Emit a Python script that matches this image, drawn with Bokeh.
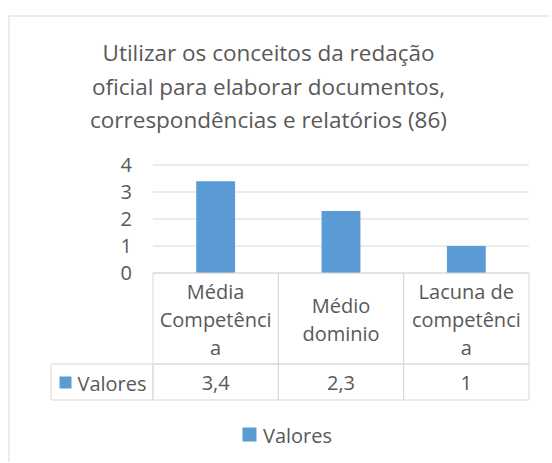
from bokeh.plotting import figure
from bokeh.models import Range1d, FixedTicker, Label, LinearAxis
from bokeh.embed import file_html
from bokeh.resources import INLINE

# ---- data ----
title_lines = ["Utilizar os conceitos da redação",
               "oficial para elaborar documentos,",
               "correspondências e relatórios (86)"]
categories = ["Média Competência", "Médio dominio", "Lacuna de competência"]
category_lines = [["Média", "Competênci", "a"],
                  ["Médio", "dominio"],
                  ["Lacuna de", "competênci", "a"]]
values = [3.4, 2.3, 1.0]
value_labels = ["3,4", "2,3", "1"]
series_name = "Valores"
y_ticks = [0, 1, 2, 3, 4]

# ---- style / layout (page pixels) ----
BAR = "#5b9bd5"
TXT = "#595959"
GRID = "#d9d9d9"
FONT = "Open Sans"
W, H = 550, 462
PA_LEFT, PA_RIGHT = 152.5, 528.5     # plot area in page px
PA_TOP, PA_BOTTOM = 164.5, 272.5
Y_MAX = y_ticks[-1]

n_cat = len(categories)
slot = [i + 0.5 for i in range(n_cat)]

# whole canvas is the frame; default ranges are page pixels (y downwards)
p = figure(x_range=Range1d(0, W), y_range=Range1d(H, 0),
           width=W, height=H, min_border=0,
           x_axis_location=None, y_axis_location=None,
           output_backend="svg", toolbar_location=None, title=None)
p.outline_line_color = None
p.grid.visible = False
p.background_fill_color = "white"
p.border_fill_color = "white"

# data scales that map the category slots / values onto the plot area
ux = (PA_RIGHT - PA_LEFT) / n_cat
uy = (PA_BOTTOM - PA_TOP) / Y_MAX
p.extra_x_ranges = {"cat": Range1d(-PA_LEFT / ux, n_cat + (W - PA_RIGHT) / ux)}
p.extra_y_ranges = {"val": Range1d(-(H - PA_BOTTOM) / uy, Y_MAX + PA_TOP / uy)}

# value axis
yax = LinearAxis(y_range_name="val", ticker=FixedTicker(ticks=y_ticks),
                 fixed_location=PA_LEFT)
yax.axis_line_color = None
yax.major_tick_line_color = None
yax.minor_tick_line_color = None
yax.major_tick_out = 0
yax.major_tick_in = 0
yax.major_label_standoff = 21
yax.major_label_text_font = FONT
yax.major_label_text_font_size = "20px"
yax.major_label_text_color = TXT
p.add_layout(yax, "left")

# gridlines at the ticks
p.segment(x0=0, x1=n_cat, y0=y_ticks, y1=y_ticks, x_range_name="cat",
          y_range_name="val", line_color=GRID, line_width=1)

# bars
p.vbar(x=slot, top=values, bottom=0, width=0.31, color=BAR, line_color=None,
       x_range_name="cat", y_range_name="val")


def text(t, x, y, size=20, align="center", xr="default"):
    # y is the wanted baseline; correct for the renderer's baseline offset
    p.add_layout(Label(x=x, y=y - 0.4 * size, text=t, x_range_name=xr,
                       text_font=FONT, text_font_size=f"{size}px",
                       text_color=TXT, text_align=align,
                       text_baseline="alphabetic"))


# chart outer border
p.quad(left=8.5, right=W + 20, top=15.5, bottom=H + 20,
       fill_color=None, line_color=GRID, line_width=1)

# title
for i, line in enumerate(title_lines):
    text(line, 268, 60.7 + i * 33.8, size=22.5)

# data table: columns follow the category slots
row_top, row_mid, row_bot = PA_BOTTOM, 363.5, 399.5
cells_l = list(range(n_cat)) * 2
cells_r = [c + 1 for c in cells_l]
cells_t = [row_top] * n_cat + [row_mid] * n_cat
cells_b = [row_mid] * n_cat + [row_bot] * n_cat
p.quad(left=cells_l, right=cells_r, top=cells_t, bottom=cells_b,
       x_range_name="cat", fill_color=None, line_color=GRID, line_width=1)
p.quad(left=50.5, right=PA_LEFT, top=row_mid, bottom=row_bot,
       fill_color=None, line_color=GRID, line_width=1)

for cx, lines in zip(slot, category_lines):
    n = len(lines)
    for j, ln in enumerate(lines):
        yb = 327.3 + (j - (n - 1) / 2) * 28
        text(ln, cx, yb, xr="cat")

for cx, lab in zip(slot, value_labels):
    text(lab, cx, 390.7, xr="cat")

# row header with swatch
p.quad(left=59, right=71, top=376, bottom=388, fill_color=BAR, line_color=None)
text(series_name, 77, 390.7, align="left")

# legend
p.quad(left=242, right=256, top=427, bottom=441, fill_color=BAR, line_color=None)
text(series_name, 262.5, 443.3, align="left")

open("out.html", "w").write(file_html(p, INLINE))
